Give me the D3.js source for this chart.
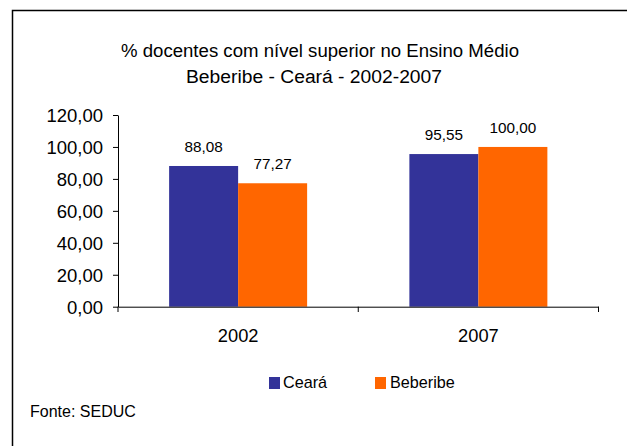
<!DOCTYPE html>
<html>
<head>
<meta charset="utf-8">
<script src="https://cdn.jsdelivr.net/npm/d3@7/dist/d3.min.js"></script>
<style>
  html, body { margin: 0; padding: 0; background: #fff; }
  svg text { font-family: "Liberation Sans", Arial, sans-serif; fill: #000; }
</style>
</head>
<body>
<svg id="chart" width="627" height="446"></svg>
<script>
const categories = ["2002", "2007"];
const seriesNames = ["Ceará", "Beberibe"];
const ceara = [88.08, 95.55];
const beberibe = [77.27, 100.00];
const yTicks = [0, 20, 40, 60, 80, 100, 120];
const colors = ["#333399", "#FF6600"];
const titleLines = ["% docentes com nível superior no Ensino Médio", "Beberibe - Ceará - 2002-2007"];
const sourceText = "Fonte: SEDUC";

const svg = d3.select("#chart");
const fmt = v => d3.format(".2f")(v).replace(".", ",");

// outer frame (left and top visible)
svg.append("path")
  .attr("d", "M12.5,450 L12.5,10.5 L640,10.5")
  .attr("fill", "none").attr("stroke", "#000").attr("stroke-width", 1.5);

// titles
svg.append("text").attr("x", 121).attr("y", 57)
  .attr("font-size", 18).attr("textLength", 398).attr("lengthAdjust", "spacingAndGlyphs").text(titleLines[0]);
svg.append("text").attr("x", 186).attr("y", 83)
  .attr("font-size", 18).attr("textLength", 256).attr("lengthAdjust", "spacingAndGlyphs").text(titleLines[1]);

const x0 = d3.scaleBand().domain(categories).range([118, 598.5]).paddingInner(0).paddingOuter(0);
const x1 = d3.scaleBand().domain(seriesNames).range([0, 138]);
const y = d3.scaleLinear().domain([0, 120]).range([306.7, 115]);

const values = [ceara, beberibe];
const data = categories.map((c, i) => ({ cat: c, vals: seriesNames.map((s, j) => ({ s, j, v: values[j][i] })) }));

const groups = svg.append("g").selectAll("g").data(data).join("g")
  .attr("transform", d => `translate(${x0(d.cat) + (x0.bandwidth() - 138) / 2},0)`);

groups.selectAll("rect").data(d => d.vals).join("rect")
  .attr("x", d => x1(d.s)).attr("width", x1.bandwidth())
  .attr("y", d => y(d.v)).attr("height", d => y(0) - y(d.v))
  .attr("fill", d => colors[d.j]);

groups.selectAll("text.lbl").data(d => d.vals).join("text")
  .attr("class", "lbl")
  .attr("x", d => x1(d.s) + x1.bandwidth() / 2)
  .attr("y", d => y(d.v) - 14)
  .attr("text-anchor", "middle").attr("font-size", 15.3)
  .text(d => fmt(d.v));

// y axis
const yAxis = svg.append("g").attr("transform", "translate(118,0)")
  .call(d3.axisLeft(y).tickValues(yTicks).tickSize(5).tickSizeOuter(0).tickFormat(fmt));
yAxis.select(".domain").attr("stroke", "#000");
yAxis.selectAll("line").attr("stroke", "#000");
yAxis.selectAll("text").attr("font-size", 18.5)
  .attr("font-family", "'Liberation Sans', Arial, sans-serif").attr("fill", "#000")
  .attr("x", -15).attr("dy", "0.36em");

// x axis
const xAxis = svg.append("g").attr("transform", "translate(0,306.7)")
  .call(d3.axisBottom(x0).tickSize(0).tickSizeOuter(0));
xAxis.select(".domain").attr("stroke", "#000");
xAxis.selectAll("text").attr("font-size", 18.3)
  .attr("font-family", "'Liberation Sans', Arial, sans-serif").attr("fill", "#000")
  .attr("dy", "0.71em").attr("y", 22);
// category boundary ticks
const bounds = [x0.range()[0], ...categories.map(c => x0(c) + x0.bandwidth())];
svg.append("g").selectAll("line").data(bounds).join("line")
  .attr("x1", d => d).attr("x2", d => d)
  .attr("y1", 306.7).attr("y2", 312).attr("stroke", "#000");

// legend
const legendX = [269, 375];
const lg = svg.append("g").selectAll("g").data(seriesNames).join("g")
  .attr("transform", (d, i) => `translate(${legendX[i]},377)`);
lg.append("rect").attr("width", 11).attr("height", 12).attr("fill", (d, i) => colors[i]);
lg.append("text").attr("x", (d, i) => i === 0 ? 14 : 15).attr("y", 11).attr("font-size", 16.2).text(d => d);

// source
svg.append("text").attr("x", 30).attr("y", 417).attr("font-size", 16).text(sourceText);
</script>
</body>
</html>
